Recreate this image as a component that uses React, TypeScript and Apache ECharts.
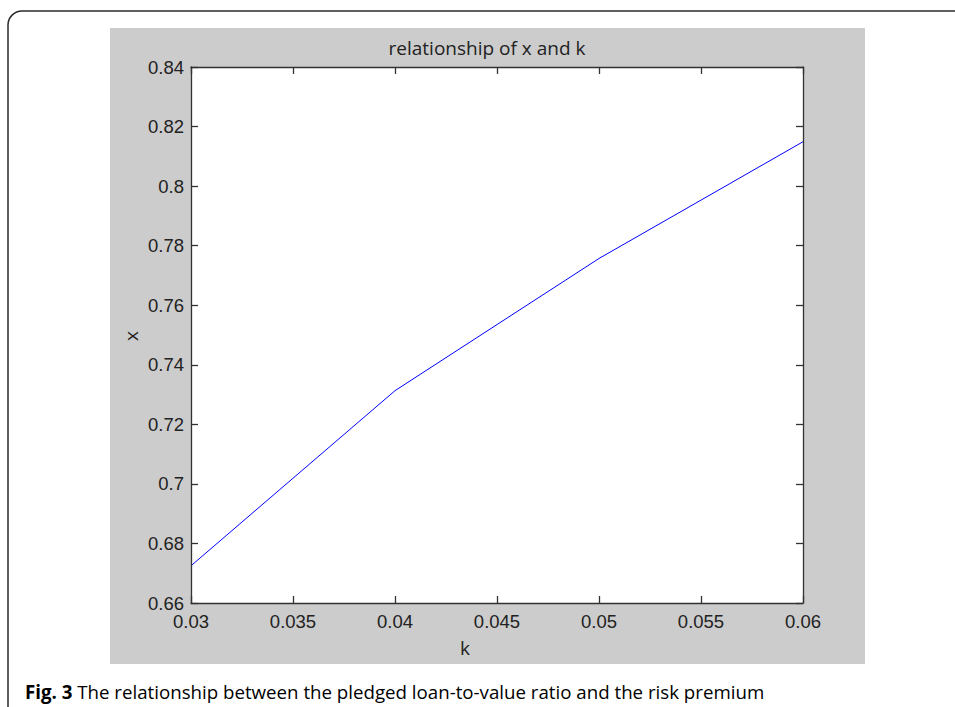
import React, { useEffect, useRef } from "react";
import * as echarts from "echarts";

const kValues = [0.03, 0.04, 0.05, 0.06];
const xValues = [0.6725, 0.7313, 0.7757, 0.8149];
const xTickMin = 0.03;
const xTickMax = 0.06;
const xTickStep = 0.005;
const yTickMin = 0.66;
const yTickMax = 0.84;
const yTickStep = 0.02;
const chartTitle = "relationship of x and k";
const xAxisName = "k";
const yAxisName = "x";
const captionBold = "Fig. 3";
const captionText = " The relationship between the pledged loan-to-value ratio and the risk premium";

const GRID = { left: 191, top: 67, width: 612, height: 536 };
const AXIS_COLOR = "#333333";
const TICK_FONT = "'Liberation Sans', Arial, sans-serif";
const TEXT_FONT = "'Open Sans', 'Noto Sans', sans-serif";

const fmt = (d: number) => (v: number) => String(parseFloat(v.toFixed(d)));

export default function App() {
  const ref = useRef<HTMLDivElement>(null);
  useEffect(() => {
    if (!ref.current) return;
    const chart = echarts.init(ref.current, null, { renderer: "svg" });
    const axisCommon = {
      z: 10,
      axisLine: { show: true, onZero: false, lineStyle: { color: AXIS_COLOR, width: 1.3 } },
      axisTick: { show: true, inside: true, length: 7, lineStyle: { color: AXIS_COLOR, width: 1.3 } },
      splitLine: { show: false },
    };
    chart.setOption({
      animation: false,
      backgroundColor: "#ffffff",
      grid: {
        left: GRID.left,
        top: GRID.top,
        width: GRID.width,
        height: GRID.height,
        show: true,
        backgroundColor: "#ffffff",
        borderWidth: 0,
      },
      xAxis: [
        {
          type: "value",
          min: xTickMin,
          max: xTickMax,
          interval: xTickStep,
          position: "bottom",
          ...axisCommon,
          axisLabel: {
            show: true,
            margin: 9,
            color: "#222222",
            fontFamily: TICK_FONT,
            fontSize: 18.5,
            formatter: fmt(3),
          },
        },
        {
          type: "value",
          min: xTickMin,
          max: xTickMax,
          interval: xTickStep,
          position: "top",
          ...axisCommon,
          axisLabel: { show: false },
        },
      ],
      yAxis: [
        {
          type: "value",
          min: yTickMin,
          max: yTickMax,
          interval: yTickStep,
          position: "left",
          ...axisCommon,
          axisLabel: {
            show: true,
            margin: 7,
            color: "#222222",
            fontFamily: TICK_FONT,
            fontSize: 18.5,
            formatter: fmt(2),
          },
        },
        {
          type: "value",
          min: yTickMin,
          max: yTickMax,
          interval: yTickStep,
          position: "right",
          ...axisCommon,
          axisLabel: { show: false },
        },
      ],
      series: [
        {
          type: "line",
          data: kValues.map((k, i) => [k, xValues[i]]),
          showSymbol: false,
          symbol: "none",
          lineStyle: { color: "#0000ff", width: 1 },
          z: 5,
        },
      ],
      graphic: [
        {
          type: "rect",
          z: -100,
          silent: true,
          shape: { x: 8, y: 11, width: 1000, height: 800, r: 14 },
          style: { fill: "#ffffff", stroke: "#2b2b2b", lineWidth: 1.5 },
        },
        {
          type: "rect",
          z: -50,
          silent: true,
          shape: { x: 110, y: 28, width: 755, height: 636 },
          style: { fill: "#cccccc" },
        },
        {
          type: "text",
          x: 487,
          y: 48,
          style: {
            text: chartTitle,
            fill: "#222222",
            font: `19px ${TEXT_FONT}`,
            textAlign: "center",
            textVerticalAlign: "middle",
          },
        },
        {
          type: "text",
          x: 465,
          y: 648,
          style: {
            text: xAxisName,
            fill: "#222222",
            font: `19px ${TEXT_FONT}`,
            textAlign: "center",
            textVerticalAlign: "middle",
          },
        },
        {
          type: "text",
          x: 131,
          y: 336,
          rotation: Math.PI / 2,
          style: {
            text: yAxisName,
            fill: "#222222",
            font: `19px ${TEXT_FONT}`,
            textAlign: "center",
            textVerticalAlign: "middle",
          },
        },
        {
          type: "text",
          x: 25,
          y: 691,
          style: {
            text: `{b|${captionBold}}{n|${captionText}}`,
            textVerticalAlign: "middle",
            rich: {
              b: { fontFamily: TEXT_FONT, fontSize: 18.7, fontWeight: "bold", color: "#222222" },
              n: { fontFamily: TEXT_FONT, fontSize: 18.7, color: "#333333" },
            },
          },
        },
      ],
    });
    return () => chart.dispose();
  }, []);
  return (
    <div
      ref={ref}
      style={{ position: "fixed", left: 0, top: 0, width: 955, height: 707 }}
    />
  );
}
